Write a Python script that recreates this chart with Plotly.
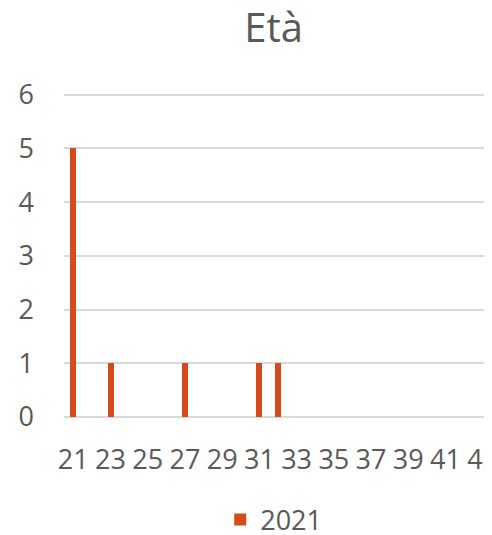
import plotly.graph_objects as go

ages = list(range(21, 44))
counts = [5, 0, 1, 0, 0, 0, 1, 0, 0, 0, 1, 1, 0, 0, 0, 0, 0, 0, 0, 0, 0, 0, 0]
series_name = "2021"
title_text = "Età"
x_ticks = list(range(21, 44, 2))
y_ticks = [0, 1, 2, 3, 4, 5, 6]

txt = "#595959"
font_fam = "Open Sans"

W, H = 484, 527

fig = go.Figure()
fig.add_trace(go.Bar(
    x=ages, y=counts, name=series_name,
    marker=dict(color="#D54B19", line=dict(width=0)),
    width=0.32,
    showlegend=True,
))

fig.update_layout(
    width=W, height=H,
    margin=dict(l=56, r=0, t=84, b=118, autoexpand=False),
    paper_bgcolor="white", plot_bgcolor="white",
    title=dict(text=title_text, x=0.49, xanchor="center", xref="paper",
               y=1 - 20 / H, yanchor="middle", yref="container",
               font=dict(family=font_fam, size=40, color=txt)),
    font=dict(family=font_fam, size=27, color=txt),
    legend=dict(orientation="h", x=0.49, xanchor="center", y=1 - 512 / H, yanchor="middle",
                yref="container", itemwidth=30,
                font=dict(family=font_fam, size=27, color=txt)),
    bargap=0,
)
fig.update_xaxes(
    range=[20.5, 43.5], tickvals=x_ticks, ticktext=[str(v) for v in x_ticks],
    showgrid=False, zeroline=False, showline=False, ticks="", automargin=False,
    ticklabeloverflow="allow",
    ticklabelstandoff=24, tickfont=dict(size=27, color=txt),
)
fig.update_yaxes(
    range=[0, 6.05], tickvals=y_ticks, showgrid=True, gridcolor="#D9D9D9", gridwidth=1.5,
    zeroline=True, zerolinecolor="#D9D9D9", zerolinewidth=1.5, showline=False, ticks="",
    automargin=False,
    ticklabelstandoff=29, tickfont=dict(size=27, color=txt),
)

fig.write_html("out.html")
